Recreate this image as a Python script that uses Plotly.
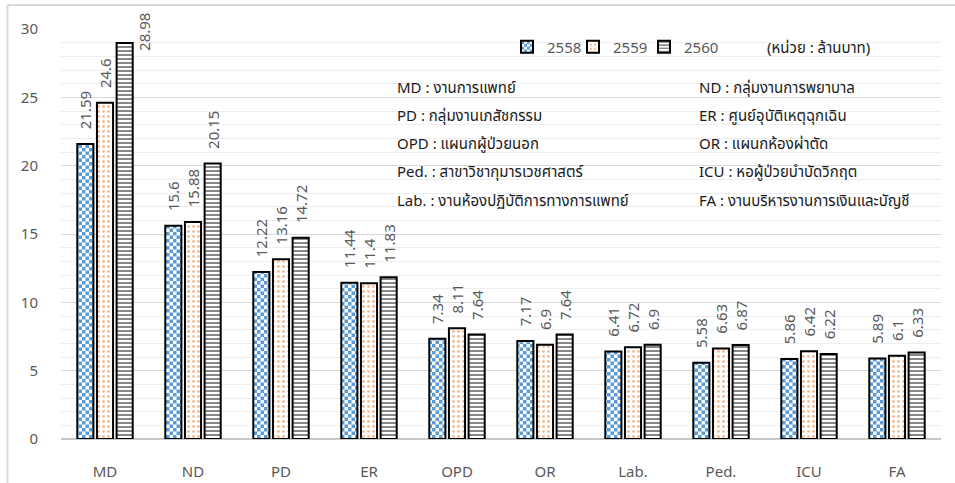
import plotly.graph_objects as go

categories = ["MD", "ND", "PD", "ER", "OPD", "OR", "Lab.", "Ped.", "ICU", "FA"]
years = ["2558", "2559", "2560"]
v2558 = [21.59, 15.6, 12.22, 11.44, 7.34, 7.17, 6.41, 5.58, 5.86, 5.89]
v2559 = [24.6, 15.88, 13.16, 11.4, 8.11, 6.9, 6.72, 6.63, 6.42, 6.1]
v2560 = [28.98, 20.15, 14.72, 11.83, 7.64, 7.64, 6.9, 6.87, 6.22, 6.33]
y_ticks = [0, 5, 10, 15, 20, 25, 30]

left_notes = [
    "MD : งานการแพทย์",
    "PD : กลุ่มงานเภสัชกรรม",
    "OPD : แผนกผู้ป่วยนอก",
    "Ped. : สาขาวิชากุมารเวชศาสตร์",
    "Lab. : งานห้องปฏิบัติการทางการแพทย์",
]
right_notes = [
    "ND : กลุ่มงานการพยาบาล",
    "ER : ศูนย์อุบัติเหตุฉุกเฉิน",
    "OR : แผนกห้องผ่าตัด",
    "ICU : หอผู้ป่วยบำบัดวิกฤต",
    "FA : งานบริหารงานการเงินและบัญชี",
]
unit_label = "(หน่วย : ล้านบาท)"

FONT = "Noto Sans, Noto Sans Thai, Open Sans, sans-serif"
LABEL_FONT = dict(size=15, color="#595959", family=FONT)

# plot area in pixels: x 61..941, y 29..439
PX_L, PX_W, PX_T, PX_H = 61, 880, 29, 410


def px_x(x):
    return (x - PX_L) / PX_W


def px_y(y):
    return (PX_T + PX_H - y) / PX_H


patterns = [
    dict(path="M0,0H3.5V3.5H0Z M3.5,3.5H7V7H3.5Z", size=7, fgcolor="#5B9BD5",
         bgcolor="white", fillmode="replace"),
    dict(shape=".", size=5, solidity=0.28, fgcolor="#ED7D31", bgcolor="white"),
    dict(shape="-", size=4, solidity=0.5, fgcolor="#111111", bgcolor="white"),
]
legend_ids = ["legend", "legend2", "legend3"]
legend_px = [507, 573, 644]

fig = go.Figure()
for name, vals, pat, lg in zip(years, [v2558, v2559, v2560], patterns, legend_ids):
    # the tallest bar's label would run past the top edge, so it is placed
    # beside the bar as an annotation instead
    positions = ["none" if v == max(v2560) else "outside" for v in vals]
    fig.add_trace(go.Bar(
        x=categories, y=vals, name=name, legend=lg,
        marker=dict(color="white", pattern=pat,
                    line=dict(color="black", width=2)),
        text=vals, texttemplate="\u00a0\u00a0\u00a0%{y}", textposition=positions,
        textangle=-90, cliponaxis=False, constraintext="none",
        textfont=LABEL_FONT,
    ))

top_idx = v2560.index(max(v2560))
annotations = [dict(
    text=f"{v2560[top_idx]}", x=categories[top_idx], y=v2560[top_idx],
    xref="x", yref="y", textangle=-90, showarrow=False,
    xanchor="center", yanchor="middle", xshift=39, yshift=11,
    font=LABEL_FONT,
)]

row_y = [87, 115, 143, 171, 200]
for txt, py in zip(left_notes, row_y):
    annotations.append(dict(text=txt, xref="paper", yref="paper",
                            x=px_x(395), y=px_y(py),
                            xanchor="left", yanchor="middle", showarrow=False,
                            font=dict(size=15, color="#1a1a1a", family=FONT)))
for txt, py in zip(right_notes, row_y):
    annotations.append(dict(text=txt, xref="paper", yref="paper",
                            x=px_x(697), y=px_y(py),
                            xanchor="left", yanchor="middle", showarrow=False,
                            font=dict(size=15, color="#1a1a1a", family=FONT)))
annotations.append(dict(text=unit_label, xref="paper", yref="paper",
                        x=px_x(765), y=px_y(47),
                        xanchor="left", yanchor="middle", showarrow=False,
                        font=dict(size=15, color="#1a1a1a", family=FONT)))

legend_style = dict(orientation="h", xanchor="left", yanchor="middle",
                    bgcolor="rgba(0,0,0,0)", itemwidth=30,
                    font=dict(size=15, color="#595959", family=FONT))
legends = {lg: dict(legend_style, x=px_x(lx), y=px_y(47))
           for lg, lx in zip(legend_ids, legend_px)}

fig.update_layout(
    width=955, height=483,
    margin=dict(l=61, r=14, t=29, b=44),
    paper_bgcolor="white", plot_bgcolor="white",
    barmode="group", bargap=0.33, bargroupgap=0.18,
    font=dict(family=FONT, size=15, color="#595959"),
    showlegend=True,
    xaxis=dict(showgrid=False, ticks="", ticklabelstandoff=22,
               tickfont=dict(size=15, color="#595959"), showline=False,
               automargin=False),
    yaxis=dict(range=[0, 30], tickvals=y_ticks, showgrid=True,
               gridcolor="#D9D9D9", gridwidth=1,
               minor=dict(dtick=1, showgrid=True, gridcolor="#EEEEEE", gridwidth=1),
               zeroline=True, zerolinecolor="#C8C8C8", zerolinewidth=2,
               ticks="", ticklabelstandoff=22, automargin=False,
               tickfont=dict(size=15, color="#595959")),
    annotations=annotations,
    shapes=[
        dict(type="line", xref="paper", yref="paper",
             x0=px_x(7.5), x1=px_x(7.5), y0=-0.2, y1=px_y(5),
             line=dict(color="#D9D9D9", width=2)),
        dict(type="line", xref="paper", yref="paper",
             x0=px_x(7.5), x1=1.05, y0=px_y(5), y1=px_y(5),
             line=dict(color="#D9D9D9", width=2)),
    ],
    **legends,
)

fig.write_html("out.html")
